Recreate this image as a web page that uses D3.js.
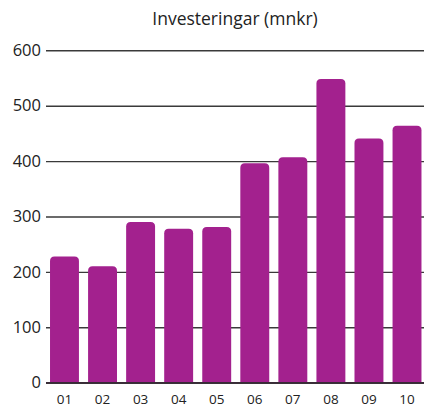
<!DOCTYPE html>
<html>
<head>
<meta charset="utf-8">
<script src="https://cdn.jsdelivr.net/npm/d3@7"></script>
<style>
  html, body { margin: 0; padding: 0; background: #fff; }
  svg text { font-family: "Open Sans", Lato, sans-serif; font-weight: 500; fill: #222; }
</style>
</head>
<body>
<svg id="chart" width="424" height="410"></svg>
<script>
// Investments per year, in millions of kronor
const years = ["01", "02", "03", "04", "05", "06", "07", "08", "09", "10"];
const investments = [228, 210, 290, 278, 281, 396, 407, 548, 441, 464];
const yTicks = [0, 100, 200, 300, 400, 500, 600];
const title = "Investeringar (mnkr)";

const svg = d3.select("#chart");

const x = d3.scaleBand()
  .domain(years)
  .range([48.5, 423])
  .paddingInner(0.24)
  .paddingOuter(0.04);

const y = d3.scaleLinear()
  .domain([0, 600])
  .range([382.7, 50.3]);

// Title
svg.append("text")
  .attr("x", 235)
  .attr("y", 25)
  .attr("text-anchor", "middle")
  .style("font-size", "17.5px")
  .text(title);

// Horizontal gridlines with value labels
const yAxis = d3.axisLeft(y)
  .tickValues(yTicks)
  .tickSize(-(424 - 46))
  .tickPadding(5)
  .tickFormat(d3.format("d"));

const gy = svg.append("g")
  .attr("transform", "translate(46,0)")
  .call(yAxis);
gy.select(".domain").remove();
gy.selectAll(".tick line")
  .attr("stroke", "#3a3a3a")
  .attr("stroke-width", 1.4);
gy.selectAll(".tick text")
  .style("font-size", "16.5px")
  .attr("fill", "#222");

// Bars with rounded top corners
const r = 4.5;
function barPath(d, i) {
  const x0 = x(years[i]);
  const w = x.bandwidth();
  const y0 = y(0);
  const y1 = y(d);
  return `M${x0},${y0}V${y1 + r}Q${x0},${y1} ${x0 + r},${y1}` +
         `H${x0 + w - r}Q${x0 + w},${y1} ${x0 + w},${y1 + r}V${y0}Z`;
}
svg.append("g")
  .selectAll("path")
  .data(investments)
  .join("path")
  .attr("d", barPath)
  .attr("fill", "#a3218e");

// Baseline drawn over the bars
svg.append("line")
  .attr("x1", 46).attr("x2", 424)
  .attr("y1", y(0)).attr("y2", y(0))
  .attr("stroke", "#3a2a38")
  .attr("stroke-width", 1.6);

// Year labels
const xAxis = d3.axisBottom(x).tickSize(0).tickPadding(12);
const gx = svg.append("g")
  .attr("transform", `translate(0,${y(0)})`)
  .call(xAxis);
gx.select(".domain").remove();
gx.selectAll(".tick text")
  .style("font-size", "13.5px")
  .attr("fill", "#222");
</script>
</body>
</html>
